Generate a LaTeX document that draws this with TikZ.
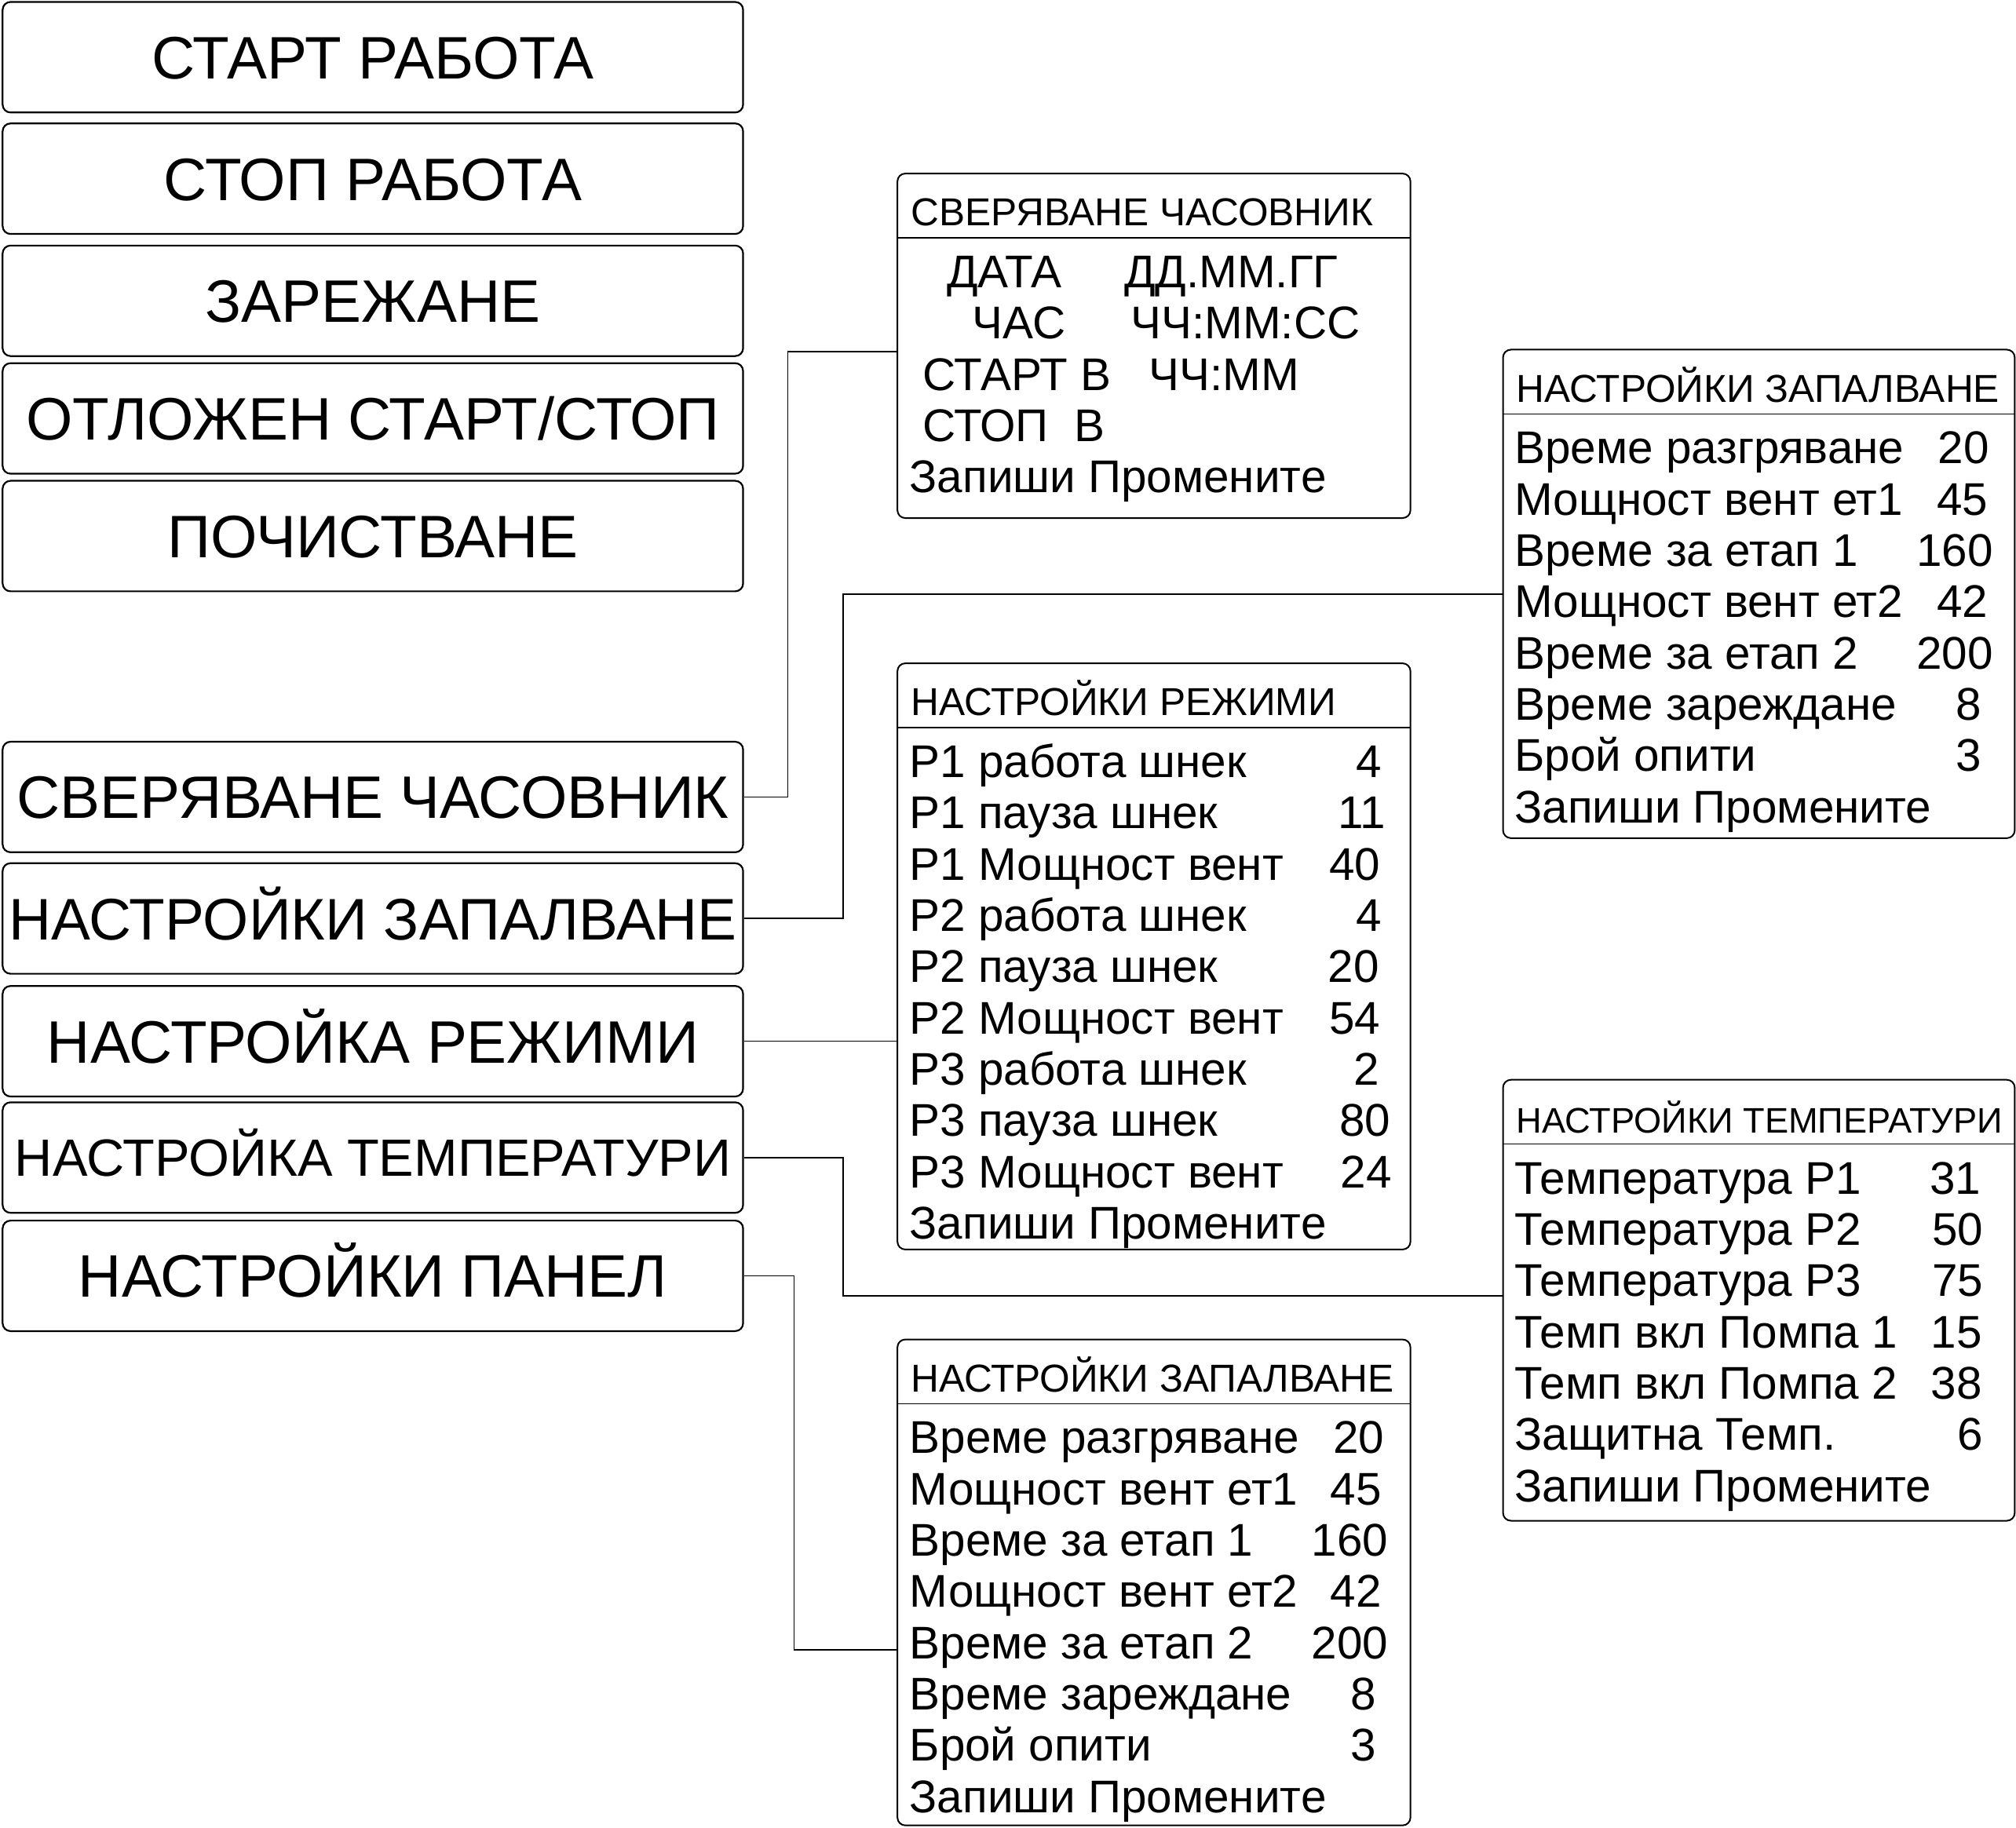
\documentclass[tikz,border=0pt]{standalone}
\usepackage{fontspec}
\setmainfont{Liberation Sans}
\usetikzlibrary{fit}

\tikzset{
  menubox/.style={draw, rounded corners=2.5pt, line width=0.55pt, minimum width=235.8pt,
    minimum height=35.2pt, inner sep=0pt, font=\fontsize{19.1}{21}\selectfont,
    text height=13.7pt, text depth=0pt},
  panel/.style={draw, rounded corners=2.5pt, line width=0.5pt, inner sep=0pt},
  headtxt/.style={anchor=base west, inner sep=0pt, font=\fontsize{12.4}{14}\selectfont},
  rowtxt/.style={anchor=base west, inner sep=0pt, font=\fontsize{14.6}{16}\selectfont},
  valtxt/.style={anchor=base east, inner sep=0pt, font=\fontsize{14.6}{16}\selectfont},
  link/.style={line width=0.42pt}
}

\begin{document}
\begin{tikzpicture}[x=0.40944pt, y=-0.40944pt]
  \useasboundingbox (0,0) rectangle (1568,1422);

  % main menu
  \node[menubox] (start) at (290,44.5) {СТАРТ РАБОТА};
  \node[menubox] (stop) at (290,139) {СТОП РАБОТА};
  \node[menubox] (load) at (290,234) {ЗАРЕЖАНЕ};
  \node[menubox] (delay) at (290,325.5) {ОТЛОЖЕН СТАРТ/СТОП};
  \node[menubox] (clean) at (290,417) {ПОЧИСТВАНЕ};
  \node[menubox] (clockset) at (290,620) {СВЕРЯВАНЕ ЧАСОВНИК};
  \node[menubox, font=\fontsize{18.7}{20}\selectfont, text height=13.4pt] (igniteset) at (290,714.5) {НАСТРОЙКИ ЗАПАЛВАНЕ};
  \node[menubox] (modeset) at (290,810) {НАСТРОЙКА РЕЖИМИ};
  \node[menubox, font=\fontsize{16.7}{18}\selectfont, text height=12pt] (tempset) at (290,900.5) {НАСТРОЙКА ТЕМПЕРАТУРИ};
  \node[menubox] (panelset) at (290,992.5) {НАСТРОЙКИ ПАНЕЛ};

  % clock panel
  \begin{scope}[shift={(698,135)}]
  \node[panel, fit={(0,0) (399,268)}] (clockbox) {};
  \draw[link] (0,50) -- (399,50);
  \node[headtxt] (clockhd) at (10,40.8) {СВЕРЯВАНЕ ЧАСОВНИК};
  \node[rowtxt] (cdate) at (38,88.7) {ДАТА};
  \node[rowtxt] (cdatev) at (176,88.7) {ДД.ММ.ГГ};
  \node[rowtxt] (chour) at (58,128.6) {ЧАС};
  \node[rowtxt] (chourv) at (181,128.6) {ЧЧ:ММ:СС};
  \node[rowtxt] (cstart) at (19,168.5) {СТАРТ В};
  \node[rowtxt] (cstartv) at (195,168.5) {ЧЧ:ММ};
  \node[rowtxt] (cstop) at (19,208.4) {СТОП~~В};
  \node[rowtxt] (csave) at (9,248.3) {Запиши Промените};
  \end{scope}

  % ignition panel
  \begin{scope}[shift={(1169,272)}]
  \node[panel, fit={(0,0) (398,380)}] (ignbox) {};
  \draw[link] (0,50) -- (398,50);
  \node[headtxt] (ignhd) at (10,40.8) {НАСТРОЙКИ ЗАПАЛВАНЕ};
  \foreach \txt/\val/\xe [count=\i from 0] in {Време разгряване/20/378.5, Мощност вент ет1/45/377.5,
      Време за етап 1/160/381.5, Мощност вент ет2/42/377.5, Време за етап 2/200/381.5,
      Време зареждане/8/372.5, Брой опити/3/372.5} {
    \node[rowtxt] (ir\i) at (8.5,88.7+39.9*\i) {\txt};
    \node[valtxt] (iv\i) at (\xe,88.7+39.9*\i) {\val};
  }
  \node[rowtxt] (isave) at (8.5,368) {Запиши Промените};
  \end{scope}

  % modes panel
  \begin{scope}[shift={(698,516)}]
  \node[panel, fit={(0,0) (399,456)}] (modebox) {};
  \draw[link] (0,50) -- (399,50);
  \node[headtxt] (modehd) at (10,40.8) {НАСТРОЙКИ РЕЖИМИ};
  \foreach \txt/\val/\xe [count=\i from 0] in {P1 работа шнек/4/377, P1 пауза шнек/11/380,
      P1 Мощност вент/40/376, P2 работа шнек/4/377, P2 пауза шнек/20/375,
      P2 Мощност вент/54/376, P3 работа шнек/2/375, P3 пауза шнек/80/384,
      P3 Мощност вент/24/385} {
    \node[rowtxt] (mr\i) at (9,88.7+39.9*\i) {\txt};
    \node[valtxt] (mv\i) at (\xe,88.7+39.9*\i) {\val};
  }
  \node[rowtxt] (msave) at (9,447.8) {Запиши Промените};
  \end{scope}

  % temperature panel
  \begin{scope}[shift={(1169,840)}]
  \node[panel, fit={(0,0) (398,343)}] (tempbox) {};
  \draw[link] (0,50) -- (398,50);
  \node[headtxt, font=\fontsize{11.3}{13}\selectfont] (temphd) at (10,41.5) {НАСТРОЙКИ ТЕМПЕРАТУРИ};
  \foreach \txt/\val/\xe [count=\i from 0] in {Температура P1/31/372, Температура P2/50/374,
      Температура P3/75/374, Темп вкл Помпа 1/15/373, Темп вкл Помпа 2/38/373,
      Защитна Темп./6/374} {
    \node[rowtxt] (tr\i) at (8.5,88.7+39.9*\i) {\txt};
    \node[valtxt] (tv\i) at (\xe,88.7+39.9*\i) {\val};
  }
  \node[rowtxt] (tsave) at (8.5,328.1) {Запиши Промените};
  \end{scope}

  % panel settings (second ignition panel)
  \begin{scope}[shift={(698,1042)}]
  \node[panel, fit={(0,0) (399,378)}] (pnlbox) {};
  \draw[link] (0,50) -- (399,50);
  \node[headtxt] (pnlhd) at (10,40.8) {НАСТРОЙКИ ЗАПАЛВАНЕ};
  \foreach \txt/\val/\xe [count=\i from 0] in {Време разгряване/20/379, Мощност вент ет1/45/377,
      Време за етап 1/160/382, Мощност вент ет2/42/377, Време за етап 2/200/382,
      Време зареждане/8/373, Брой опити/3/373} {
    \node[rowtxt] (pr\i) at (9,88.7+39.9*\i) {\txt};
    \node[valtxt] (pv\i) at (\xe,88.7+39.9*\i) {\val};
  }
  \node[rowtxt] (psave) at (9,368) {Запиши Промените};
  \end{scope}

  % links
  \draw[link] (clockset.east) -- ++(34,0) |- ([yshift=-1.85pt]clockbox.west);
  \draw[link] (igniteset.east) -- ++(77,0) |- (ignbox.west);
  \draw[link] (modeset.east) -- (modeset.east -| modebox.west);
  \draw[link] (tempset.east) -- ++(77,0) |- ([yshift=1.43pt]tempbox.west);
  \draw[link] (panelset.east) -- ++(39,0) |- ([yshift=-0.8pt]pnlbox.west |- pr4);
\end{tikzpicture}
\end{document}
